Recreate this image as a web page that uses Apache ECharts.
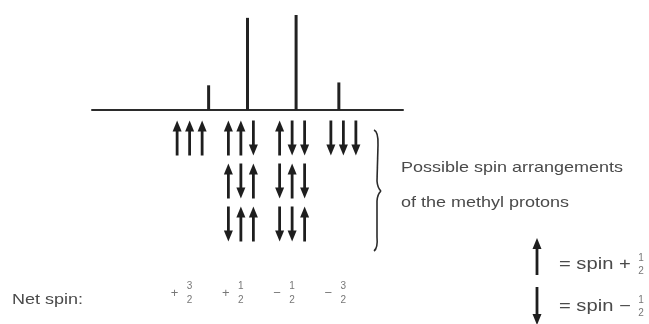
<!DOCTYPE html>
<html><head><meta charset="utf-8">
<script src="https://cdn.jsdelivr.net/npm/echarts@6/dist/echarts.min.js"></script>
<style>html,body{margin:0;padding:0;background:#fff}#c{width:649px;height:324px}</style>
</head><body><div id="c"></div>
<script>
// ---- data ----
const peakPositions = [3.0, 4.0, 5.25, 6.35];       // line positions (arbitrary shift units)
const peakIntensities = [0.26, 0.97, 1.0, 0.29];    // relative intensities
const spinGroups = ['+3/2', '+1/2', '-1/2', '-3/2'];
const netSpinSigns = ['+', '+', '\u2212', '\u2212'];
const netSpinNumerators = ['3', '1', '1', '3'];
const netSpinDenominators = ['2', '2', '2', '2'];
const arrangementRows = ['1', '2', '3'];
const arrangements = [
  ['\u2191\u2191\u2191'],
  ['\u2191\u2191\u2193', '\u2191\u2193\u2191', '\u2193\u2191\u2191'],
  ['\u2191\u2193\u2193', '\u2193\u2191\u2193', '\u2193\u2193\u2191'],
  ['\u2193\u2193\u2193']
];

const arrowData = [];
arrangements.forEach((list, g) => list.forEach((s, r) => [...s].forEach((ch, k) =>
  arrowData.push([g, r, k, ch === '\u2191' ? 1 : -1]))));

const INK = '#1e1e1e';
const TXT = '#4a4a4a';
const FRAC = '#777';
const FONT = '"Liberation Sans", Arial, sans-serif';

function arrowShape(cx, yTop, len, dir, color) {
  const headH = 11, headW = 9, shaftW = 2.8;
  const yBot = yTop + len;
  let tip, base, s1, s2;
  if (dir > 0) { tip = yTop; base = yTop + headH; s1 = base - 1; s2 = yBot; }
  else { tip = yBot; base = yBot - headH; s1 = yTop; s2 = base + 1; }
  return {
    type: 'group', children: [
      { type: 'rect', shape: { x: cx - shaftW / 2, y: s1, width: shaftW, height: s2 - s1 }, style: { fill: color } },
      { type: 'polygon', shape: { points: [[cx, tip], [cx - headW / 2, base], [cx + headW / 2, base]] }, style: { fill: color } }
    ]
  };
}

const braceStyle = { stroke: '#2a2a2a', lineWidth: 1.6, fill: null };
const brace = {
  type: 'group', children: [
    { type: 'bezierCurve', shape: { x1: 374, y1: 130, x2: 378, y2: 145, cpx1: 378.5, cpy1: 132 }, style: braceStyle },
    { type: 'line', shape: { x1: 378, y1: 145, x2: 377, y2: 181 }, style: braceStyle },
    { type: 'bezierCurve', shape: { x1: 377, y1: 181, x2: 381, y2: 191, cpx1: 377.5, cpy1: 188 }, style: braceStyle },
    { type: 'bezierCurve', shape: { x1: 381, y1: 191, x2: 377, y2: 201, cpx1: 377.5, cpy1: 194 }, style: braceStyle },
    { type: 'line', shape: { x1: 377, y1: 201, x2: 377, y2: 237 }, style: braceStyle },
    { type: 'bezierCurve', shape: { x1: 377, y1: 237, x2: 374, y2: 251, cpx1: 378, cpy1: 248 }, style: braceStyle }
  ]
};

const chart = echarts.init(document.getElementById('c'), null, { renderer: 'canvas' });

const legendUp = arrowShape(537, 238, 37, 1, INK);
const legendDown = arrowShape(537, 287, 38, -1, INK);

function fracText(x, y, t) {
  return { type: 'text', x: x, y: y, style: { text: t, font: '10px ' + FONT, fill: FRAC, align: 'center', verticalAlign: 'middle' } };
}

chart.setOption({
  animation: false,
  backgroundColor: '#fff',
  grid: [
    { left: 92, top: 15, width: 311, height: 95 },
    { left: 164, top: 116, width: 205, height: 129 }
  ],
  xAxis: [
    { type: 'value', gridIndex: 0, min: 0, max: 8, axisLine: { show: true, onZero: true, lineStyle: { color: '#2b2b2b', width: 2 } },
      axisTick: { show: false }, axisLabel: { show: false }, splitLine: { show: false } },
    { type: 'category', gridIndex: 1, data: spinGroups, axisLine: { show: false }, axisTick: { show: false },
      axisLabel: {
        interval: 0,
        hideOverlap: false,
        margin: 38,
        formatter: (v, i) => `{e|}{n|${netSpinNumerators[i]}}{e|}\n{s|${netSpinSigns[i]}}{n| }{e|}\n{e|}{n|${netSpinDenominators[i]}}{e|}`,
        rich: {
          e: { width: 22, lineHeight: 7, fontSize: 10 },
          s: { width: 22, align: 'center', fontSize: 13, lineHeight: 7, color: FRAC, fontFamily: FONT },
          n: { width: 8, align: 'center', fontSize: 10, lineHeight: 7, color: FRAC, fontFamily: FONT }
        }
      } }
  ],
  yAxis: [
    { type: 'value', gridIndex: 0, min: 0, max: 1, show: false },
    { type: 'category', gridIndex: 1, data: arrangementRows, inverse: true, show: false }
  ],
  series: [
    { type: 'bar', xAxisIndex: 0, yAxisIndex: 0, barWidth: 3, itemStyle: { color: '#222' },
      data: peakPositions.map((x, i) => [x, peakIntensities[i]]) },
    { type: 'custom', xAxisIndex: 1, yAxisIndex: 1, data: arrowData,
      renderItem(params, api) {
        const c = api.coord([api.value(0), api.value(1)]);
        const x = c[0] + (api.value(2) - 1) * 12.5;
        return arrowShape(x, c[1] - 17, 35, api.value(3), INK);
      } }
  ],
  graphic: [
    brace,
    { type: 'text', x: 401, y: 168, scaleX: 1.2, style: { text: 'Possible spin arrangements', font: '15px ' + FONT, fill: TXT, verticalAlign: 'middle' } },
    { type: 'text', x: 401, y: 203, scaleX: 1.2, style: { text: 'of the methyl protons', font: '15px ' + FONT, fill: TXT, verticalAlign: 'middle' } },
    { type: 'text', x: 12, y: 300, scaleX: 1.2, style: { text: 'Net spin:', font: '15px ' + FONT, fill: TXT, verticalAlign: 'middle' } },
    legendUp, legendDown,
    { type: 'text', x: 559, y: 265, scaleX: 1.26, style: { text: '= spin +', font: '16px ' + FONT, fill: TXT, verticalAlign: 'middle' } },
    fracText(641, 258, '1'), fracText(641, 271, '2'),
    { type: 'text', x: 559, y: 307, scaleX: 1.26, style: { text: '= spin \u2212', font: '16px ' + FONT, fill: TXT, verticalAlign: 'middle' } },
    fracText(641, 300, '1'), fracText(641, 313, '2')
  ]
});
</script>
</body></html>
